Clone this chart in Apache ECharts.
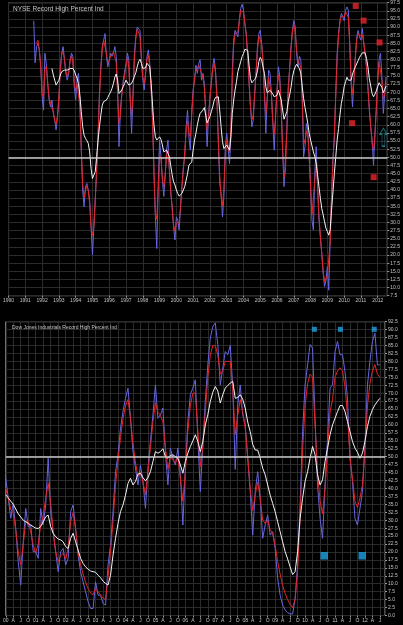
<!DOCTYPE html>
<html><head><meta charset="utf-8">
<script src="https://cdn.jsdelivr.net/npm/echarts/dist/echarts.min.js"></script>
<style>html,body{margin:0;padding:0;background:#000;}#c{width:403px;height:625px;}</style>
</head><body><div id="c"></div>
<script>
// ---------- NYSE panel (monthly, month index counted from Jan 1990) ----------
const nyseTitle = 'NYSE Record High Percent Ind';
const nyseYearLabels = ['1990','1991','1992','1993','1994','1995','1996','1997','1998','1999','2000','2001','2002','2003','2004','2005','2006','2007','2008','2009','2010','2011','2012'];
const nyseBlueStartMonth = 18;
const nyseBlue = [
92,79,84,85,83,78,68.6,64.5,82,78.8,72.7,67.6,
65.5,67.6,63.5,61.5,58.4,62.5,67.6,77.8,82,84,80,75.8,
73.7,75.8,80,82,81,71.7,67.6,73.7,75.8,67.6,52.2,40,
34.8,41,42,40,37,28.7,20,28.7,37,46,56.3,69.6,
77.8,84,86,88,80.9,77.8,79.9,82,81,82,84,81,
70.7,53.3,64.5,69.6,73.7,73.7,78.8,82,80,67.6,57.4,68.6,
82,87,90,90.6,89,80,73.7,70.7,75.8,80.9,83,78.8,
70.7,62.5,45,31.7,22,41,55.3,50.2,43,38,44,52.2,
55.3,46,39,34.8,28.7,24.6,31.7,30.7,27.7,34.8,41,47,
50.2,59.4,64.5,56.3,52.2,64.5,70.7,73.7,78.3,75.8,78.8,80,
73.7,75.8,72.7,64.5,53.3,62.5,68.6,72.7,77.8,80.4,76.8,69.6,
55.3,42,38.9,31.7,38,53.3,57.4,53.3,48,56.3,76.8,86,
89,88,87,92,95.7,97,95.2,91,88,82,72.7,65.5,
59.4,61.5,69.6,75.8,84,88,89,85,79.9,69.6,57.4,68.6,
76.8,75.8,69.6,60.4,52.2,63.5,70.7,77.8,74.7,65.5,52.2,41,
41,58.4,71.7,76.8,84,89,92,90,82,77.8,81,80,
69.6,50.2,53.3,60.4,58.4,50.2,41,30.7,27.7,45,53.3,41,
30.7,25.6,20.5,14.4,10.3,12.3,16.4,9.2,24.6,38,50.2,55.3,
69.6,82,88,92,94.2,93.2,92,95.2,96.2,95.2,85,72.7,
65.5,73.7,80.9,87,89,87,86,89.6,85,82,77.8,71.7,
64.5,59.4,55.3,47.6,57.4,64.5,74.7,80,82,74.7,63.5,69.6,
74.7];
const nyseRedStartMonth = 20;
const nyseRed = [
85,86,83,78,70,68,77,78,73,68.4,66.6,66,
64,61.2,60.2,62.8,68.9,76.3,81.5,82.5,80,76.3,74.8,76.3,
79.5,81.3,78.9,73,70.2,72.7,73.2,65.8,53,41.8,37.7,39.7,
41.3,39.8,35.7,28.6,26,28.6,37.2,46.3,57,68.3,77.3,83,
86,85.7,81.9,79.1,79.9,81.2,81.5,82.3,82.8,79.2,68.9,60.5,
63,69.4,72.7,75,78.3,80.7,77.4,68.2,62.8,69.2,79.9,86.5,
89.4,90,87.2,80.7,74.5,72.7,75.8,80.2,81.4,77.8,70.7,60.2,
46,32.6,31,39.8,50.5,49.7,43.6,40.8,44.6,50.9,52.2,46.6,
39.7,34.3,29.2,27.4,29.7,30.2,30.2,34.6,41,46.3,51.7,58.4,
61.2,57.3,56.3,63,69.9,74.1,76.5,77.2,78.4,78.1,75.8,74.5,
71.4,63.8,58.4,61.7,68.1,73,77.2,78.9,75.9,67.8,55.6,44.6,
37.9,35.1,40.3,50.5,55.4,53,51.4,59.4,74,84.5,88,88,
88.5,91.7,95.1,95,94.6,91.3,87.3,81.2,73.2,65.8,61.5,63,
69.1,76.3,82.9,87.3,87.8,84.7,78.6,69.1,63.3,67.9,74.5,74.5,
68.9,60.7,57.1,62.5,70.7,75.3,73.2,64.5,52.7,43.8,45.4,57.4,
69.7,77.3,83.5,88.5,90.8,88.5,83,79.7,80,77.7,67.4,55.8,
54.3,58.1,56.9,50,40.7,32.5,32.8,42.8,48.2,41.5,32,25.6,
20.3,14.9,11.8,12.8,13.6,13,24.1,37.7,48.4,57.6,69.1,80.4,
87.5,91.6,93.4,93.2,93.1,94.7,94,92.9,84.5,74,69.4,73.5,
80.6,86,88,87.3,87.2,87.6,85.4,81.7,77.3,71.4,65,59.7,
54.4,52,56.7,65.3,73.5,79.2,79.7,73.7,67.8,69.4,73];
const nyseWhiteStartMonth = 31;
const nyseWhite = [
77.3,75.3,73.7,72.2,72.2,73.7,75.3,76.3,76.8,76.8,77.1,76.8,
76.8,77.3,77.8,77.3,76.6,75.3,74.2,72.7,69.1,64,59.4,56.8,
55.8,55.1,54.3,51.7,46.6,43.5,43,45.6,50.2,55.3,59.4,63,
66,67.1,67.6,67.6,68.4,69.3,70.1,71.2,72.7,74.6,75.6,73.7,
69.6,69.4,70.7,71.7,72.7,73.7,73.4,72.2,71.7,72.7,73.7,74.9,
76,77.8,79.4,80.1,78.9,77.3,76.8,77.5,78.9,79.2,77.8,72.7,
66,59.9,56.3,55.3,55.8,56.3,55.5,53.8,51.7,51.7,52.2,51.2,
50.2,47.4,44.6,42.5,41.5,40,38.9,38.1,37.9,38.9,40,41,
43,45,47.6,47.1,48.6,52.2,55.3,57.4,59.9,62,63.5,63.5,
64.5,65.3,63,60.6,60.9,62.5,64,65.5,67.4,68.4,69,68.6,
64.5,59.4,54.8,52.7,53,53.8,53.8,52.2,56.3,63.5,67.6,70.7,
73.2,76.3,77.8,79.4,80.9,81.9,83.2,83.5,82.9,78.3,74.2,72.9,
73.2,73.9,74.7,76.6,79.4,80.7,79.9,77.8,75.8,71.7,69.8,70.4,
70.6,70.1,69.4,68.6,68.1,69.1,70.6,70.4,67.6,64.5,61.7,61.3,
64,67.1,69.1,71.5,74.6,76.6,77.8,78.6,78.6,77.3,75.8,71.9,
68.1,65.3,63,60.4,57.4,55.3,53.5,51.7,50.2,48.2,44.6,41,
37.4,34.3,32.3,30.2,28.2,27.2,26.1,27.7,33.8,39.4,45,50.2,
55.3,58.9,63,66.6,68.8,71.7,73.2,74.6,73.7,73.2,73.7,75.6,
76.8,77.8,78.3,79.7,80.7,81.4,82.1,82.7,82.1,80.4,77.8,74.2,
71.9,69.6,68.6,69.4,70.4,71.7,72.9,73.5,71.5,69.8,70.9,71.9];
const nyseMarkYears = [2010.69, 2011.16, 2012.11, 2010.47, 2011.76];
const nyseMarkValues = [96.5, 92.0, 85.3, 60.5, 43.9];
const nyseArrowYear = 2012.34, nyseArrowValue = 56.2;

// ---------- Dow Jones panel (monthly, month index counted from Jan 2000) ----------
const djTitle = 'Dow Jones Industrials Record High Percent Ind';
const djQuarterLetters = ['', 'A', 'J', 'O'];
const djBlue = [
43.2,36.9,30.6,35.3,27.4,16.9,9.6,23.2,33.7,28,28.5,20.1,
20.1,18,33.7,28.5,34.8,49.5,32.7,26.4,20.1,13.8,20.1,21.1,
15.9,18,32.7,34.8,27.4,19,13.8,10.6,7.5,4.3,2.2,2.2,
10.6,6.4,6.4,3.8,3.3,15.9,22.2,32.7,45.3,50.6,59,64.2,
68.4,71.6,62.1,51.6,46.4,41.1,47.4,42.2,33.7,46.4,54.8,63.2,
72.6,62.1,63.2,65.3,51.6,41.1,52.7,49.5,47.4,52.7,44.3,28.5,
46.4,61.1,69.5,71.6,74.2,55.8,39,53.7,67.4,78.9,87.4,91,
92.1,85.3,72.6,77.9,83.1,82.1,85,72,46,66.3,72.6,63.2,
60,49.5,39,25.3,39,45.3,36.9,24.3,28.5,31.6,25.3,26.4,
21.1,11.7,6.4,3.3,1.7,0.9,0.5,0.5,5.4,15.9,34.8,57.9,
72.6,78.9,85.3,84.2,62.1,41.1,30.6,24.3,41.1,55.8,71.6,72.6,
83.1,86.3,82.1,82.1,76.8,68.4,49.5,42.2,30.6,28.5,33.7,39,
53.7,72.6,80,86.3,88.9,78.9,78.9];
const djRed = [
40,36.9,33.4,32.2,26.8,20,16,22.4,29.7,29.6,26.3,22.2,
19.6,22.5,28.5,31.4,36.9,41.6,35.3,26.4,20.1,17,18.8,19.6,
17.7,21.2,29.6,32.4,27.2,19.8,16,13,10.5,8.5,7,6.5,
8.5,7.5,6.5,5.5,5,12,20,30,41,49,56,62,
66,68,62,54,48,44,45,42,38,45,53,61,
67,64,63,61,53,46,50,49,48,50,43,36,
45,58,66,70,70,58,47,53,64,75,82,85,
85,82,76,77,80,80,80,71,57,63,68,64,
59,50,40,33,38,42,37,30,29,30,27,26,
22,17,13,9.5,7,5,3.5,2.5,5,14,31,52,
66,73,76,75,60,45,36,32,40,52,64,68,
75,77,78,77,72,63,50,43,36,34,37,41,
52,66,73,77,79,76,75];
const djWhite = [
38,37,36,35,33.5,32,31,30,29.5,29,28.5,28,
27.5,27.4,28,29.5,31.1,31.6,28,25.9,24.8,24.1,23.8,23.2,
21.7,21.1,24.3,25.9,23.2,20.6,18,16.4,15.3,14.6,14,13.8,
13.6,12.7,11.9,10.8,10.1,9.6,12.7,19,24.3,29,32.7,34.8,
37.9,41.6,43.2,41.1,42.2,44.5,44.8,43.4,42.4,43.4,45.3,48.5,
51.6,51.1,51.6,52.5,50,49.5,50.4,50.6,50,49.5,47.4,44.8,
48.5,51.1,53.2,55,56.9,54.8,51.6,54.8,60,63.2,67.4,70.3,
72.1,70.7,66.9,69.5,71.6,72.4,73.2,73.7,68.4,68.6,69.5,68.1,
65.3,60.9,57.9,53.9,52.1,52.1,49.5,46.4,44.3,41.1,37.9,35.3,
32.7,29.5,26.4,23.2,20.1,17.8,15.3,12.9,13.8,20.1,30.6,36.9,
42.2,45.3,49.5,53.2,50.6,44.3,41.1,42.7,48.5,52.7,56.9,60,
62.1,64.2,66.1,66.1,64.2,61.1,57.9,54.8,52.7,51.4,49.5,51.1,
54.8,59.5,62.7,64.8,66.3,67.4,68.4];
const djSmallMarkYears = [2010.31, 2011.18, 2012.31];
const djSmallMarkValues = [90.1, 90.1, 90.1];
const djBigMarkYears = [2010.64, 2011.91];
const djBigMarkValues = [18.8, 18.8];

// ---------- build ----------
function monthly(baseYear, startMonth, arr) {
  return arr.map((v, i) => [baseYear + (startMonth + i) / 12, v]);
}
function pairs(xs, ys) { return xs.map((x, i) => [x, ys[i]]); }

const FONT = 'Liberation Sans, Arial, sans-serif';
const BLUE = '#6666e0', RED = '#e42424', WHITE = '#f4f4f4';
const GRIDC = '#2b2b2b', FRAME = '#9a9a9a', LAB = '#c4c4c4';

function lineSeries(name, data, color, xi, z) {
  return { name, type: 'line', xAxisIndex: xi, yAxisIndex: xi, data, showSymbol: false, symbol: 'none',
    lineStyle: { color, width: 1 }, itemStyle: { color }, z, animation: false, silent: true };
}

const chart = echarts.init(document.getElementById('c'), null, { renderer: 'canvas' });
chart.setOption({
  backgroundColor: '#000',
  animation: false,
  title: [
    { text: nyseTitle, left: 8, top: 1, textStyle: { color: LAB, fontSize: 6.5, fontWeight: 'normal', fontFamily: FONT } },
    { text: djTitle, left: 7, top: 320.3, textStyle: { color: LAB, fontSize: 5, fontWeight: 'normal', fontFamily: FONT } }
  ],
  grid: [
    { left: 7, right: 15.5, top: 2.7, height: 293, show: true, borderColor: FRAME, borderWidth: 1, backgroundColor: '#000' },
    { left: 5, right: 18, top: 321.7, height: 293.8, show: true, borderColor: FRAME, borderWidth: 1, backgroundColor: '#000' }
  ],
  xAxis: [
    { type: 'value', gridIndex: 0, min: 1990, max: 2012.57, interval: 1,
      axisLine: { show: false }, axisTick: { show: true, length: 2, lineStyle: { color: FRAME } },
      splitLine: { show: true, lineStyle: { color: GRIDC, width: 1 } },
      axisLabel: { color: LAB, fontSize: 5, fontFamily: FONT, margin: 2.5, showMaxLabel: false,
        formatter: v => nyseYearLabels[Math.round(v - 1990)] || '' } },
    { type: 'value', gridIndex: 1, min: 2000, max: 2012.67, interval: 0.25,
      axisLine: { show: false }, axisTick: { show: true, length: 2, lineStyle: { color: FRAME } },
      splitLine: { show: true, lineStyle: { color: GRIDC, width: 1 } },
      axisLabel: { color: LAB, fontSize: 5, fontFamily: FONT, margin: 3, showMaxLabel: false,
        formatter: v => { const q = Math.round((v - 2000) * 4); const yr = Math.floor(q / 4); const r = q % 4;
          return r === 0 ? String(yr).padStart(2, '0') : djQuarterLetters[r]; } } }
  ],
  yAxis: [
    { type: 'value', gridIndex: 0, position: 'right', min: 7.5, max: 97.5, interval: 2.5,
      axisLine: { show: false }, axisTick: { show: true, length: 2, lineStyle: { color: FRAME } },
      splitLine: { show: true, lineStyle: { color: GRIDC, width: 1 } },
      axisLabel: { color: LAB, fontSize: 5, fontFamily: FONT, margin: 3, formatter: v => v.toFixed(1) } },
    { type: 'value', gridIndex: 1, position: 'right', min: 0, max: 92.5, interval: 2.5,
      axisLine: { show: false }, axisTick: { show: true, length: 2, lineStyle: { color: FRAME } },
      splitLine: { show: true, lineStyle: { color: GRIDC, width: 1 } },
      axisLabel: { color: LAB, fontSize: 5, fontFamily: FONT, margin: 3, formatter: v => v.toFixed(1) } }
  ],
  series: [
    lineSeries('NYSE raw', monthly(1990, nyseBlueStartMonth, nyseBlue), BLUE, 0, 2),
    lineSeries('NYSE short', monthly(1990, nyseRedStartMonth, nyseRed), RED, 0, 3),
    lineSeries('NYSE long', monthly(1990, nyseWhiteStartMonth, nyseWhite), WHITE, 0, 4),
    { type: 'line', xAxisIndex: 0, yAxisIndex: 0, data: [], z: 5, silent: true,
      markLine: { silent: true, symbol: 'none', animation: false, label: { show: false },
        lineStyle: { color: '#c8c8c8', width: 1.5, type: 'solid' }, data: [{ yAxis: 50 }] } },
    { type: 'scatter', xAxisIndex: 0, yAxisIndex: 0, data: pairs(nyseMarkYears, nyseMarkValues), symbol: 'rect',
      symbolSize: 6, itemStyle: { color: '#e8262b' }, z: 6, silent: true },
    { type: 'scatter', xAxisIndex: 0, yAxisIndex: 0, data: [[nyseArrowYear, nyseArrowValue]],
      symbol: 'path://M5,0 L10,6 L7,6 L7,18 L3,18 L3,6 L0,6 Z', symbolSize: [7, 18],
      itemStyle: { color: 'rgba(0,0,0,0)', borderColor: '#1f8c98', borderWidth: 1 }, z: 6, silent: true },

    lineSeries('DJ raw', monthly(2000, 0, djBlue), BLUE, 1, 2),
    lineSeries('DJ short', monthly(2000, 0, djRed), RED, 1, 3),
    lineSeries('DJ long', monthly(2000, 0, djWhite), WHITE, 1, 4),
    { type: 'line', xAxisIndex: 1, yAxisIndex: 1, data: [], z: 5, silent: true,
      markLine: { silent: true, symbol: 'none', animation: false, label: { show: false },
        lineStyle: { color: '#c8c8c8', width: 1.5, type: 'solid' }, data: [{ yAxis: 50 }] } },
    { type: 'scatter', xAxisIndex: 1, yAxisIndex: 1, data: pairs(djSmallMarkYears, djSmallMarkValues), symbol: 'rect',
      symbolSize: 5, itemStyle: { color: '#1ea3e6' }, z: 6, silent: true },
    { type: 'scatter', xAxisIndex: 1, yAxisIndex: 1, data: pairs(djBigMarkYears, djBigMarkValues), symbol: 'rect',
      symbolSize: 7.5, itemStyle: { color: '#1ea3e6' }, z: 6, silent: true }
  ]
});
</script></body></html>
